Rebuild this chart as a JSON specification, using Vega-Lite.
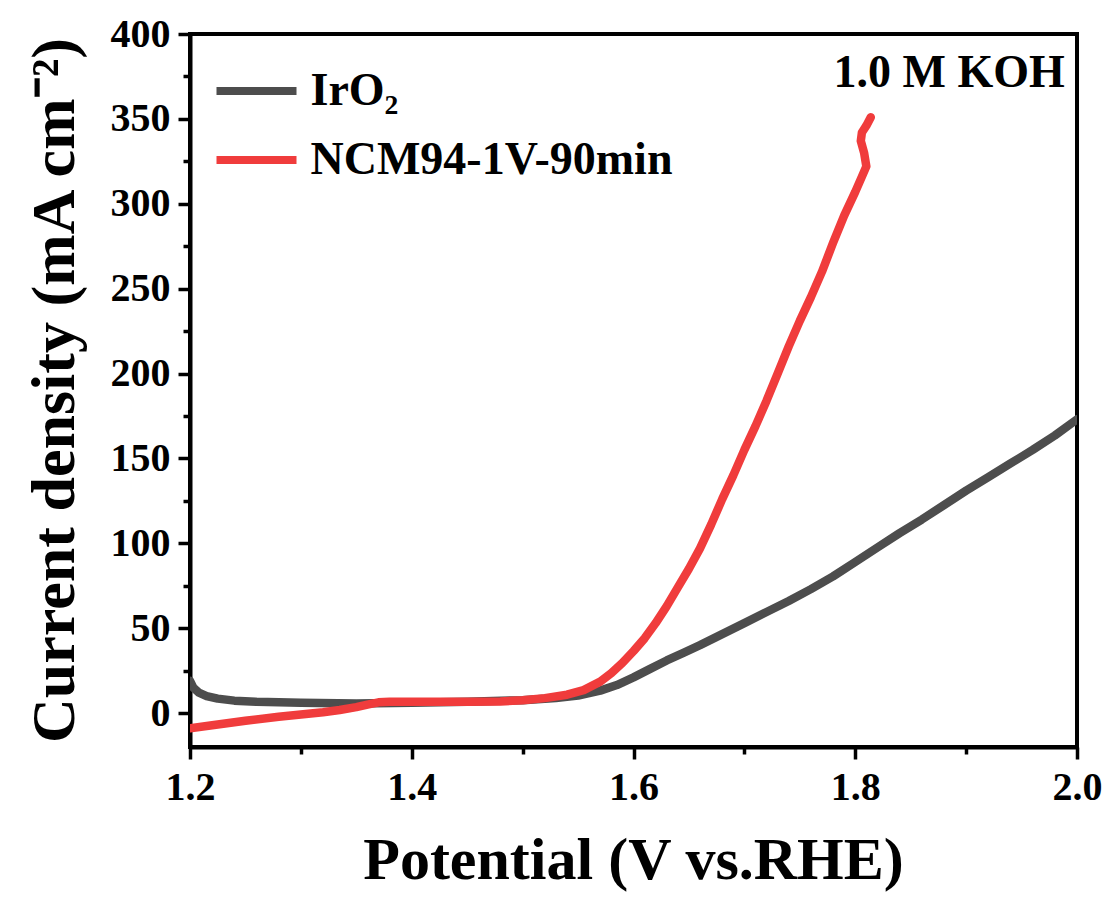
{
  "$schema": "https://vega.github.io/schema/vega-lite/v6.json",
  "width": 887,
  "height": 713,
  "autosize": {"type": "none"},
  "padding": {"left": 190, "top": 34, "right": 35, "bottom": 159},
  "background": "white",
  "config": {
    "view": {"stroke": "black", "strokeWidth": 4},
    "font": "Liberation Serif"
  },
  "data": {
    "values": [
      {"i": 1, "s": "IrO₂", "V": 1.200, "J": 19},
      {"i": 2, "s": "IrO₂", "V": 1.203, "J": 15},
      {"i": 3, "s": "IrO₂", "V": 1.208, "J": 12},
      {"i": 4, "s": "IrO₂", "V": 1.215, "J": 10},
      {"i": 5, "s": "IrO₂", "V": 1.225, "J": 8.5},
      {"i": 6, "s": "IrO₂", "V": 1.24, "J": 7.3},
      {"i": 7, "s": "IrO₂", "V": 1.26, "J": 6.6},
      {"i": 8, "s": "IrO₂", "V": 1.30, "J": 6.0},
      {"i": 9, "s": "IrO₂", "V": 1.35, "J": 5.6},
      {"i": 10, "s": "IrO₂", "V": 1.40, "J": 6.0},
      {"i": 11, "s": "IrO₂", "V": 1.45, "J": 6.6},
      {"i": 12, "s": "IrO₂", "V": 1.50, "J": 7.6},
      {"i": 13, "s": "IrO₂", "V": 1.53, "J": 8.8},
      {"i": 14, "s": "IrO₂", "V": 1.55, "J": 10.3},
      {"i": 15, "s": "IrO₂", "V": 1.57, "J": 13.2},
      {"i": 16, "s": "IrO₂", "V": 1.585, "J": 16.5},
      {"i": 17, "s": "IrO₂", "V": 1.60, "J": 21},
      {"i": 18, "s": "IrO₂", "V": 1.615, "J": 26},
      {"i": 19, "s": "IrO₂", "V": 1.63, "J": 31},
      {"i": 20, "s": "IrO₂", "V": 1.645, "J": 35.5},
      {"i": 21, "s": "IrO₂", "V": 1.66, "J": 40},
      {"i": 22, "s": "IrO₂", "V": 1.68, "J": 46.5},
      {"i": 23, "s": "IrO₂", "V": 1.70, "J": 53},
      {"i": 24, "s": "IrO₂", "V": 1.72, "J": 59.5},
      {"i": 25, "s": "IrO₂", "V": 1.74, "J": 66},
      {"i": 26, "s": "IrO₂", "V": 1.76, "J": 73},
      {"i": 27, "s": "IrO₂", "V": 1.78, "J": 80.5},
      {"i": 28, "s": "IrO₂", "V": 1.80, "J": 89},
      {"i": 29, "s": "IrO₂", "V": 1.82, "J": 97.5},
      {"i": 30, "s": "IrO₂", "V": 1.84, "J": 106},
      {"i": 31, "s": "IrO₂", "V": 1.86, "J": 114},
      {"i": 32, "s": "IrO₂", "V": 1.88, "J": 122.5},
      {"i": 33, "s": "IrO₂", "V": 1.90, "J": 131},
      {"i": 34, "s": "IrO₂", "V": 1.92, "J": 139},
      {"i": 35, "s": "IrO₂", "V": 1.94, "J": 147},
      {"i": 36, "s": "IrO₂", "V": 1.96, "J": 155},
      {"i": 37, "s": "IrO₂", "V": 1.98, "J": 163.5},
      {"i": 38, "s": "IrO₂", "V": 2.00, "J": 173},
      {"i": 1, "s": "NCM94-1V-90min", "V": 1.200, "J": -9},
      {"i": 2, "s": "NCM94-1V-90min", "V": 1.22, "J": -7.2},
      {"i": 3, "s": "NCM94-1V-90min", "V": 1.25, "J": -4.5},
      {"i": 4, "s": "NCM94-1V-90min", "V": 1.28, "J": -2.2},
      {"i": 5, "s": "NCM94-1V-90min", "V": 1.30, "J": -0.8},
      {"i": 6, "s": "NCM94-1V-90min", "V": 1.32, "J": 0.5},
      {"i": 7, "s": "NCM94-1V-90min", "V": 1.335, "J": 1.8},
      {"i": 8, "s": "NCM94-1V-90min", "V": 1.35, "J": 3.5},
      {"i": 9, "s": "NCM94-1V-90min", "V": 1.36, "J": 5.0},
      {"i": 10, "s": "NCM94-1V-90min", "V": 1.37, "J": 6.3},
      {"i": 11, "s": "NCM94-1V-90min", "V": 1.38, "J": 6.6},
      {"i": 12, "s": "NCM94-1V-90min", "V": 1.40, "J": 6.6},
      {"i": 13, "s": "NCM94-1V-90min", "V": 1.45, "J": 6.6},
      {"i": 14, "s": "NCM94-1V-90min", "V": 1.48, "J": 6.8},
      {"i": 15, "s": "NCM94-1V-90min", "V": 1.50, "J": 7.5},
      {"i": 16, "s": "NCM94-1V-90min", "V": 1.52, "J": 8.8},
      {"i": 17, "s": "NCM94-1V-90min", "V": 1.54, "J": 10.8},
      {"i": 18, "s": "NCM94-1V-90min", "V": 1.555, "J": 13.5},
      {"i": 19, "s": "NCM94-1V-90min", "V": 1.57, "J": 18.5},
      {"i": 20, "s": "NCM94-1V-90min", "V": 1.58, "J": 23.5},
      {"i": 21, "s": "NCM94-1V-90min", "V": 1.59, "J": 29.5},
      {"i": 22, "s": "NCM94-1V-90min", "V": 1.60, "J": 36.5},
      {"i": 23, "s": "NCM94-1V-90min", "V": 1.61, "J": 44},
      {"i": 24, "s": "NCM94-1V-90min", "V": 1.62, "J": 53},
      {"i": 25, "s": "NCM94-1V-90min", "V": 1.63, "J": 63},
      {"i": 26, "s": "NCM94-1V-90min", "V": 1.64, "J": 74},
      {"i": 27, "s": "NCM94-1V-90min", "V": 1.65, "J": 85},
      {"i": 28, "s": "NCM94-1V-90min", "V": 1.66, "J": 97},
      {"i": 29, "s": "NCM94-1V-90min", "V": 1.67, "J": 111},
      {"i": 30, "s": "NCM94-1V-90min", "V": 1.68, "J": 126},
      {"i": 31, "s": "NCM94-1V-90min", "V": 1.69, "J": 140},
      {"i": 32, "s": "NCM94-1V-90min", "V": 1.70, "J": 155},
      {"i": 33, "s": "NCM94-1V-90min", "V": 1.71, "J": 169},
      {"i": 34, "s": "NCM94-1V-90min", "V": 1.72, "J": 184},
      {"i": 35, "s": "NCM94-1V-90min", "V": 1.73, "J": 200},
      {"i": 36, "s": "NCM94-1V-90min", "V": 1.74, "J": 216},
      {"i": 37, "s": "NCM94-1V-90min", "V": 1.75, "J": 231},
      {"i": 38, "s": "NCM94-1V-90min", "V": 1.76, "J": 245},
      {"i": 39, "s": "NCM94-1V-90min", "V": 1.77, "J": 260},
      {"i": 40, "s": "NCM94-1V-90min", "V": 1.78, "J": 277},
      {"i": 41, "s": "NCM94-1V-90min", "V": 1.79, "J": 293},
      {"i": 42, "s": "NCM94-1V-90min", "V": 1.80, "J": 307},
      {"i": 43, "s": "NCM94-1V-90min", "V": 1.806, "J": 316},
      {"i": 44, "s": "NCM94-1V-90min", "V": 1.810, "J": 322},
      {"i": 45, "s": "NCM94-1V-90min", "V": 1.808, "J": 330},
      {"i": 46, "s": "NCM94-1V-90min", "V": 1.805, "J": 337},
      {"i": 47, "s": "NCM94-1V-90min", "V": 1.806, "J": 342},
      {"i": 48, "s": "NCM94-1V-90min", "V": 1.810, "J": 346},
      {"i": 49, "s": "NCM94-1V-90min", "V": 1.814, "J": 351}
    ]
  },
  "resolve": {"axis": {"x": "independent", "y": "independent"}},
  "layer": [
    {
      "mark": {"type": "line", "strokeWidth": 8.5, "strokeCap": "round", "strokeJoin": "round", "clip": true},
      "encoding": {
        "x": {
          "field": "V", "type": "quantitative",
          "scale": {"domain": [1.2, 2.0], "nice": false, "zero": false},
          "axis": {
            "orient": "bottom",
            "values": [1.2, 1.4, 1.6, 1.8, 2.0],
            "format": ".1f",
            "grid": false,
            "domainColor": "black", "domainWidth": 4,
            "tickColor": "black", "tickWidth": 3.5, "tickSize": 12,
            "labelFont": "Liberation Serif", "labelFontSize": 40, "labelFontWeight": "bold", "labelColor": "black",
            "labelPadding": 8, "labelOverlap": false, "labelFlush": false,
            "title": "Potential (V vs.RHE)",
            "titleFont": "Liberation Serif", "titleFontSize": 60, "titleFontWeight": "bold", "titleColor": "black",
            "titleX": 443, "titleY": 131, "titleAlign": "center", "titleBaseline": "alphabetic"
          }
        },
        "y": {
          "field": "J", "type": "quantitative",
          "scale": {"domain": [-20, 400], "nice": false, "zero": false},
          "axis": {
            "orient": "left",
            "values": [0, 50, 100, 150, 200, 250, 300, 350, 400],
            "grid": false,
            "domainColor": "black", "domainWidth": 4,
            "tickColor": "black", "tickWidth": 3.5, "tickSize": 12,
            "labelFont": "Liberation Serif", "labelFontSize": 40, "labelFontWeight": "bold", "labelColor": "black",
            "labelPadding": 8, "labelOverlap": false, "labelFlush": false,
            "title": "Current density (mA cm⁻²)",
            "titleFont": "Liberation Serif", "titleFontSize": 62, "titleFontWeight": "bold", "titleColor": "black",
            "titleX": -117, "titleY": 356, "titleAngle": 270, "titleAlign": "center", "titleBaseline": "alphabetic"
          }
        },
        "color": {
          "field": "s", "type": "nominal",
          "scale": {"domain": ["IrO₂", "NCM94-1V-90min"], "range": ["#4d4d4d", "#f03c3c"]},
          "legend": {
            "title": null,
            "orient": "none",
            "legendX": 42.5,
            "legendY": 33,
            "padding": 0,
            "symbolType": "M-2,0H2",
            "symbolSize": 1600,
            "symbolStrokeWidth": 8,
            "labelFont": "Liberation Serif",
            "labelFontSize": 46,
            "labelFontWeight": "bold",
            "labelColor": "black",
            "labelOffset": 30,
            "labelLimit": 0,
            "rowPadding": 22
          }
        },
        "order": {"field": "i", "type": "quantitative"}
      }
    },
    {
      "data": {"values": [{"note": "1.0 M KOH"}]},
      "mark": {"type": "text", "font": "Liberation Serif", "fontSize": 46, "fontWeight": "bold", "color": "black", "align": "right", "baseline": "alphabetic"},
      "encoding": {
        "text": {"field": "note", "type": "nominal"},
        "x": {
          "datum": 1.989, "type": "quantitative",
          "axis": {
            "orient": "bottom",
            "values": [1.3, 1.5, 1.7, 1.9],
            "grid": false, "domain": false, "labels": false, "title": null,
            "tickColor": "black", "tickWidth": 3.5, "tickSize": 7
          }
        },
        "y": {
          "datum": 369, "type": "quantitative",
          "axis": {
            "orient": "left",
            "values": [25, 75, 125, 175, 225, 275, 325, 375],
            "grid": false, "domain": false, "labels": false, "title": null,
            "tickColor": "black", "tickWidth": 3.5, "tickSize": 7
          }
        }
      }
    }
  ]
}
